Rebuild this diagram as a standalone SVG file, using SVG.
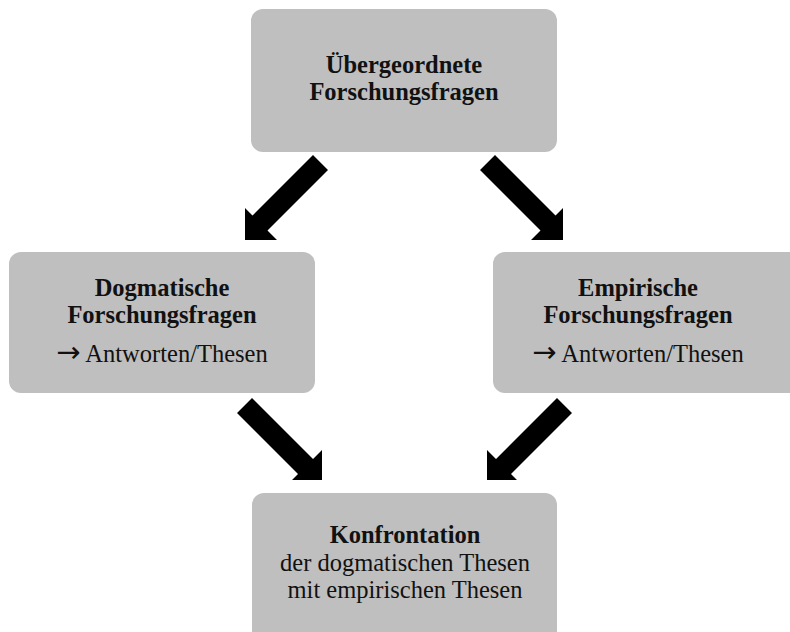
<svg xmlns="http://www.w3.org/2000/svg" width="790" height="632" viewBox="0 0 790 632">
  <style>
    .box { fill: #bfbfbf; }
    .t { font-family: "Liberation Serif", "DejaVu Serif", serif; font-size: 24.5px; fill: #111; text-anchor: middle; }
    .b { font-weight: bold; }
    .ar { font-family: "DejaVu Sans", sans-serif; font-size: 29px; }
    .arrow { fill: #000; }
  </style>
  <rect width="790" height="632" fill="#fff"/>

  <g id="connectors">
    <polygon class="arrow" points="313,155 328,170 267.5,230.5 277,240 245,240 245,208 252.5,215.5"/>
    <polygon class="arrow" points="495,155 480,170 540.5,230.5 531,240 563,240 563,208 555.5,215.5"/>
    <polygon class="arrow" points="252,398 313,459 322,450 322,480 292,480 298,474 237,413"/>
    <polygon class="arrow" points="557,398 496,459 487,450 487,480 517,480 511,474 572,413"/>
  </g>

  <g id="node-top">
    <rect class="box" x="251" y="9" width="306" height="143" rx="12"/>
    <text class="t b" x="404" y="73">Übergeordnete</text>
    <text class="t b" x="404" y="100">Forschungsfragen</text>
  </g>

  <g id="node-left">
    <rect class="box" x="9" y="252" width="306" height="141" rx="12"/>
    <text class="t b" x="162" y="296">Dogmatische</text>
    <text class="t b" x="162" y="323">Forschungsfragen</text>
    <text class="t" x="162" y="362"><tspan class="ar">→</tspan> Antworten/Thesen</text>
  </g>

  <g id="node-right">
    <rect class="box" x="493" y="252" width="310" height="141" rx="12"/>
    <text class="t b" x="638" y="296">Empirische</text>
    <text class="t b" x="638" y="323">Forschungsfragen</text>
    <text class="t" x="638" y="362"><tspan class="ar">→</tspan> Antworten/Thesen</text>
  </g>

  <g id="node-bottom">
    <rect class="box" x="252" y="493" width="305" height="150" rx="12"/>
    <text class="t b" x="405" y="543">Konfrontation</text>
    <text class="t" x="405" y="571">der dogmatischen Thesen</text>
    <text class="t" x="405" y="598">mit empirischen Thesen</text>
  </g>
</svg>
